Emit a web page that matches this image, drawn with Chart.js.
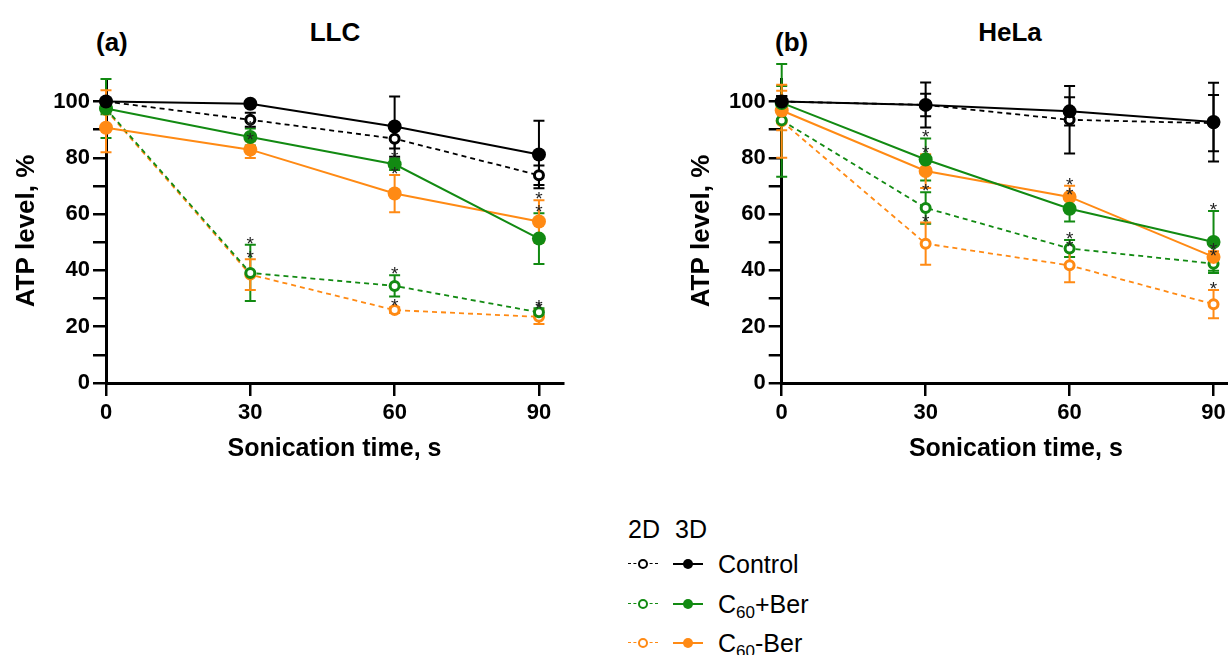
<!DOCTYPE html>
<html>
<head>
<meta charset="utf-8">
<script src="https://cdn.jsdelivr.net/npm/chart.js@4.4.1/dist/chart.umd.min.js"></script>
<style>
  body { margin: 0; background: #fff; font-family: 'Liberation Sans', Arial, sans-serif; }
  #page { position: relative; width: 1228px; height: 655px; overflow: hidden; background: #fff; }
  .lbl { position: absolute; font-weight: bold; font-size: 26px; line-height: 26px; white-space: nowrap; color: #000; }
  .leg { position: absolute; font-size: 25px; line-height: 25px; white-space: nowrap; color: #000; }
  .leg sub { font-size: 17px; vertical-align: -5px; line-height: 0; }
  canvas { position: absolute; top: 0; }
</style>
</head>
<body>
<div id="page">
  <div class="lbl" style="left:96px; top:29px">(a)</div>
  <div class="lbl" style="left:335px; top:19px; transform:translateX(-50%)">LLC</div>
  <div class="lbl" style="left:775px; top:29px">(b)</div>
  <div class="lbl" style="left:1010px; top:19px; transform:translateX(-50%)">HeLa</div>
  <canvas id="llc" width="580" height="480" style="left:0"></canvas>
  <canvas id="hela" width="585" height="480" style="left:675px"></canvas>
  <div id="legend"></div>
</div>
<script>
// sonication time points and axis ticks
const times = [0, 30, 60, 90];
const yTicks = [0, 10, 20, 30, 40, 50, 60, 70, 80, 90, 100];
// asterisk flags (treated vs control) per time point
const starFlags = [false, true, true, true];

// LLC, ATP level %
const llcCtrl2D = [100, 93.5, 86.8, 73.8];
const llcCtrl2DErr = [1, 2.5, 3.5, 3.5];
const llcCtrl3D = [100, 99.2, 91.1, 81.2];
const llcCtrl3DErr = [1, 1, 10.7, 12];
const llcPlus2D = [97.5, 39.1, 34.5, 25.1];
const llcPlus2DErr = [2, 10, 3.8, 1.5];
const llcPlus3D = [97.5, 87.4, 77.7, 51.3];
const llcPlus3DErr = [10.5, 3, 2, 9];
const llcMinus2D = [97, 38.5, 25.9, 23.5];
const llcMinus2DErr = [7, 5.5, 1, 2.5];
const llcMinus3D = [90.7, 82.9, 67.3, 57.4];
const llcMinus3DErr = [8.7, 3, 6.6, 7.5];

// HeLa, ATP level %
const helaCtrl2D = [100, 98.8, 93.5, 92.3];
const helaCtrl2DErr = [2, 4, 12, 10];
const helaCtrl3D = [100, 98.8, 96.5, 92.7];
const helaCtrl3DErr = [2, 8, 5, 14];
const helaPlus2D = [93.3, 62.2, 47.8, 42.4];
const helaPlus2DErr = [20, 5.6, 3, 2.5];
const helaPlus3D = [99.5, 79.4, 61.9, 50.1];
const helaPlus3DErr = [6, 7.5, 4.5, 11];
const helaMinus2D = [93, 49.5, 41.8, 28];
const helaMinus2DErr = [13, 7.5, 6, 5];
const helaMinus3D = [96.8, 75.3, 66.1, 44.8];
const helaMinus3DErr = [7, 6, 4, 2];

const BLACK = '#000000';
const GREEN = '#128a12';
const ORANGE = '#ff8a14';

const legendNames = ['Control', 'C<sub>60</sub>+Ber', 'C<sub>60</sub>-Ber'];
const legendColors = [BLACK, GREEN, ORANGE];

function series(label, values, errors, color, is2D, starred) {
    return {
        label: label,
        data: times.map((t, i) => ({ x: t, y: values[i] })),
        errors: errors,
        stars: starred ? starFlags : null,
        borderColor: color,
        borderWidth: is2D ? 1.8 : 2,
        borderDash: is2D ? [5, 4] : [],
        pointRadius: is2D ? 4.5 : 7,
        pointBorderWidth: is2D ? 3 : 0,
        pointBackgroundColor: is2D ? '#ffffff' : color,
        pointBorderColor: color,
        tension: 0,
        clip: false
    };
}

// error bars under the points, asterisks on top
const errorBars = {
    id: 'errorBars',
    beforeDatasetsDraw(chart) {
        const ctx = chart.ctx;
        const yScale = chart.scales.y;
        chart.data.datasets.forEach((ds, i) => {
            const meta = chart.getDatasetMeta(i);
            ctx.save();
            ctx.strokeStyle = ds.borderColor;
            ctx.lineWidth = 2;
            meta.data.forEach((pt, j) => {
                const v = ds.data[j].y, e = ds.errors[j];
                const top = yScale.getPixelForValue(v + e);
                const bot = yScale.getPixelForValue(v - e);
                ctx.beginPath();
                ctx.moveTo(pt.x, top); ctx.lineTo(pt.x, bot);
                ctx.moveTo(pt.x - 5.5, top); ctx.lineTo(pt.x + 5.5, top);
                ctx.moveTo(pt.x - 5.5, bot); ctx.lineTo(pt.x + 5.5, bot);
                ctx.stroke();
            });
            ctx.restore();
        });
    },
    afterDatasetsDraw(chart) {
        const ctx = chart.ctx;
        const yScale = chart.scales.y;
        ctx.save();
        ctx.fillStyle = '#222';
        ctx.font = '19px "Liberation Sans", Arial, sans-serif';
        ctx.textAlign = 'center';
        ctx.textBaseline = 'alphabetic';
        chart.data.datasets.forEach((ds, i) => {
            if (!ds.stars) return;
            const meta = chart.getDatasetMeta(i);
            meta.data.forEach((pt, j) => {
                if (!ds.stars[j]) return;
                const top = yScale.getPixelForValue(ds.data[j].y + ds.errors[j]);
                ctx.fillText('*', pt.x, top + 5);
            });
        });
        ctx.restore();
    }
};

const tickFont = { family: "'Liberation Sans', Arial, sans-serif", size: 22, weight: 'bold' };
const titleFont = { family: "'Liberation Sans', Arial, sans-serif", size: 25, weight: 'bold' };

function makeOptions(xMax, padRight, yWidth) {
    return {
        responsive: false,
        animation: false,
        events: [],
        layout: { padding: { top: 79, right: padRight, left: 0, bottom: 0 } },
        plugins: { legend: { display: false }, tooltip: { enabled: false } },
        scales: {
            x: {
                type: 'linear',
                min: 0,
                max: xMax,
                afterBuildTicks: s => { s.ticks = times.map(v => ({ value: v })); },
                afterFit: s => { s.height = 97; },
                grid: { display: true, drawOnChartArea: false, drawTicks: true, tickLength: 13, color: BLACK, lineWidth: 2.5 },
                border: { color: BLACK, width: 3 },
                ticks: { font: tickFont, color: BLACK, padding: 4, maxRotation: 0, autoSkip: false },
                title: { display: true, text: 'Sonication time, s', font: titleFont, color: BLACK, padding: { top: 0, bottom: 16 } }
            },
            y: {
                type: 'linear',
                min: 0,
                max: 108,
                afterBuildTicks: s => { s.ticks = yTicks.map(v => ({ value: v })); },
                afterFit: s => { s.width = yWidth; },
                grid: { display: true, drawOnChartArea: false, drawTicks: true, tickLength: 13, color: BLACK, lineWidth: 2.5 },
                border: { color: BLACK, width: 3 },
                ticks: {
                    font: tickFont, color: BLACK, padding: 3, autoSkip: false,
                    callback: v => (v % 20 === 0 ? v : '')
                },
                title: { display: true, text: 'ATP level, %', font: { ...titleFont, size: 26 }, color: BLACK, padding: { top: 11, bottom: 0 } }
            }
        }
    };
}

// first dataset is drawn on top, so 3D (filled) series come first
new Chart(document.getElementById('llc'), {
    type: 'line',
    data: {
        datasets: [
            series('3D Control', llcCtrl3D, llcCtrl3DErr, BLACK, false, false),
            series('3D C60+Ber', llcPlus3D, llcPlus3DErr, GREEN, false, true),
            series('3D C60-Ber', llcMinus3D, llcMinus3DErr, ORANGE, false, true),
            series('2D Control', llcCtrl2D, llcCtrl2DErr, BLACK, true, false),
            series('2D C60+Ber', llcPlus2D, llcPlus2DErr, GREEN, true, true),
            series('2D C60-Ber', llcMinus2D, llcMinus2DErr, ORANGE, true, true)
        ]
    },
    options: makeOptions(95, 17, 106),
    plugins: [errorBars]
});

new Chart(document.getElementById('hela'), {
    type: 'line',
    data: {
        datasets: [
            series('3D Control', helaCtrl3D, helaCtrl3DErr, BLACK, false, false),
            series('3D C60+Ber', helaPlus3D, helaPlus3DErr, GREEN, false, true),
            series('3D C60-Ber', helaMinus3D, helaMinus3DErr, ORANGE, false, true),
            series('2D Control', helaCtrl2D, helaCtrl2DErr, BLACK, true, false),
            series('2D C60+Ber', helaPlus2D, helaPlus2DErr, GREEN, true, true),
            series('2D C60-Ber', helaMinus2D, helaMinus2DErr, ORANGE, true, true)
        ]
    },
    options: makeOptions(97.6, 10, 106.7),
    plugins: [errorBars]
});

// legend: 2D (dashed, open) and 3D (solid, filled) columns
const legend = document.getElementById('legend');
function addEl(html, css, cls) {
    const d = document.createElement('div');
    if (cls) d.className = cls;
    d.innerHTML = html;
    d.style.cssText = 'position:absolute;' + css;
    legend.appendChild(d);
}
addEl('2D', 'left:628px; top:517px', 'leg');
addEl('3D', 'left:675px; top:517px', 'leg');
legendNames.forEach((name, i) => {
    const cy = 564 + i * 39.5;
    const c = legendColors[i];
    addEl('', `left:628px; top:${cy - 0.75}px; width:30px; border-top:1.5px dashed ${c}; height:0`);
    addEl('', `left:${643 - 5}px; top:${cy - 5}px; width:6px; height:6px; border:2px solid ${c}; border-radius:50%; background:#fff`);
    addEl('', `left:673px; top:${cy - 1}px; width:30px; border-top:2px solid ${c}; height:0`);
    addEl('', `left:${688 - 5}px; top:${cy - 5}px; width:10px; height:10px; border-radius:50%; background:${c}`);
    addEl(name, `left:718px; top:${cy - 12}px`, 'leg');
});
</script>
</body>
</html>
